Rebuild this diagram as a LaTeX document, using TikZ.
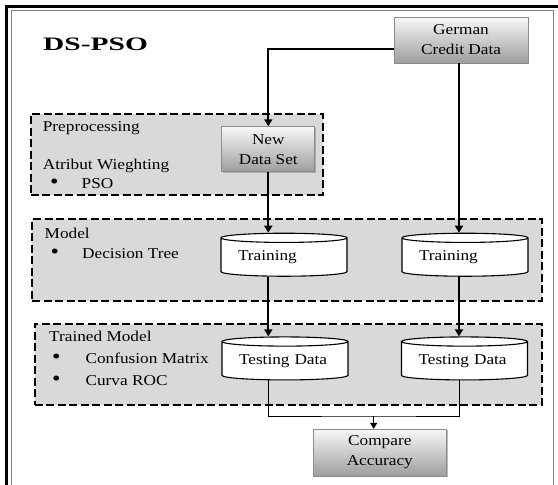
\documentclass[tikz,border=0pt]{standalone}
\usepackage{fontspec}
\setmainfont{Liberation Serif}[FakeStretch=1.15]
\newfontfamily\titlefont{Liberation Serif}[FakeStretch=1.55]
\usetikzlibrary{arrows.meta,shapes.geometric,shadows}
\newcommand{\bigdot}{\smash{\fontsize{21}{18}\selectfont\textbullet}}
\tikzset{
  shadebox/.style={draw=black!45, line width=0.8pt, top color=black!3, bottom color=black!38,
    drop shadow={shadow xshift=1.2pt, shadow yshift=-1.2pt, fill=black!45, opacity=0.6},
    align=center, inner sep=0pt, font=\fontsize{15}{20}\selectfont},
  groupbox/.style={draw, line width=2.2pt, dash pattern=on 8pt off 3.5pt, fill=black!15,
    anchor=north west, inner sep=0pt},
  store/.style={cylinder, shape border rotate=90, aspect=0.1, draw, line width=1.1pt, fill=white,
    minimum width=126pt, minimum height=43pt, text width=92pt, align=left, inner sep=0pt,
    font=\fontsize{15}{18}\selectfont},
  lbl/.style={anchor=base west, inner sep=0pt, font=\fontsize{15}{15}\selectfont},
  flow/.style={line width=2.2pt, -{Triangle[length=7pt,width=8pt]}},
  link/.style={line width=0.9pt},
  thinflow/.style={line width=0.9pt, -{Triangle[length=6pt,width=7pt]}}
}
\begin{document}
\begin{tikzpicture}[x=1pt,y=-1pt]
  \useasboundingbox (0,0) rectangle (558,485);
  % outer frame
  \draw[line width=3pt] (6.8,485) -- (6.8,6.5) -- (558,6.5);
  \draw[black!50, line width=0.8pt] (11,485) -- (11,10.5) -- (553,10.5) -- (553,485);
  \node[lbl, font=\titlefont\bfseries\fontsize{19}{22}\selectfont] (title) at (43,50) {DS-PSO};

  % group boxes
  \node[groupbox, minimum width=292pt, minimum height=81pt] (pre) at (29.5,113) {};
  \node[groupbox, minimum width=510pt, minimum height=81.5pt] (mdl) at (31,218) {};
  \node[groupbox, minimum width=507.5pt, minimum height=81pt] (trn) at (33.5,322.5) {};

  % group texts
  \node[lbl] (prelbl) at (42.7,131) {Preprocessing};
  \node[lbl] (atr) at (42.7,169) {Atribut Wieghting};
  \node[lbl] (pso) at (50,188.5) {\makebox[31.5pt][l]{\bigdot}PSO};
  \node[lbl] (mdllbl) at (44.5,238) {Model};
  \node[lbl] (dt) at (50.5,258) {\makebox[31.5pt][l]{\bigdot}Decision Tree};
  \node[lbl] (trnlbl) at (49,341.5) {Trained Model};
  \node[lbl] (cm) at (52,363) {\makebox[33.4pt][l]{\bigdot}Confusion Matrix};
  \node[lbl] (roc) at (52,385) {\makebox[33.4pt][l]{\bigdot}Curva ROC};

  % data boxes
  \node[shadebox, minimum width=134pt, minimum height=46pt] (german) at (461,40) {German\\Credit Data};
  \node[shadebox, minimum width=93pt, minimum height=45pt] (nds) at (268.3,149.2) {New\\Data Set};
  \node[shadebox, minimum width=133.6pt, minimum height=46.7pt] (cmp) at (379.8,452.6) {Compare\\Accuracy};
  \node[store] (tr1) at (284,257.3) {Training};
  \node[store] (tr2) at (465,257.3) {Training};
  \node[store] (te1) at (285,361) {Testing Data};
  \node[store] (te2) at (464.5,361) {Testing Data};

  % connectors
  \draw[flow] ([yshift=-9pt]german.west) -| (nds.north);
  \draw[flow] ([xshift=-2pt]german.south) -- ([xshift=-2pt]german.south |- tr2.north);
  \draw[flow] (nds.south) -- (nds.south |- tr1.north);
  \draw[flow] (nds.south |- tr1.south) -- (nds.south |- te1.north);
  \draw[flow] ([xshift=-2pt]german.south |- tr2.south) -- ([xshift=-2pt]german.south |- te2.north);
  \coordinate (join) at (373.7,416);
  \draw[link] (nds.south |- te1.south) |- (join) -| ([xshift=-2pt]german.south |- te2.south);
  \draw[thinflow] (join) -- (join |- cmp.north);
\end{tikzpicture}
\end{document}
